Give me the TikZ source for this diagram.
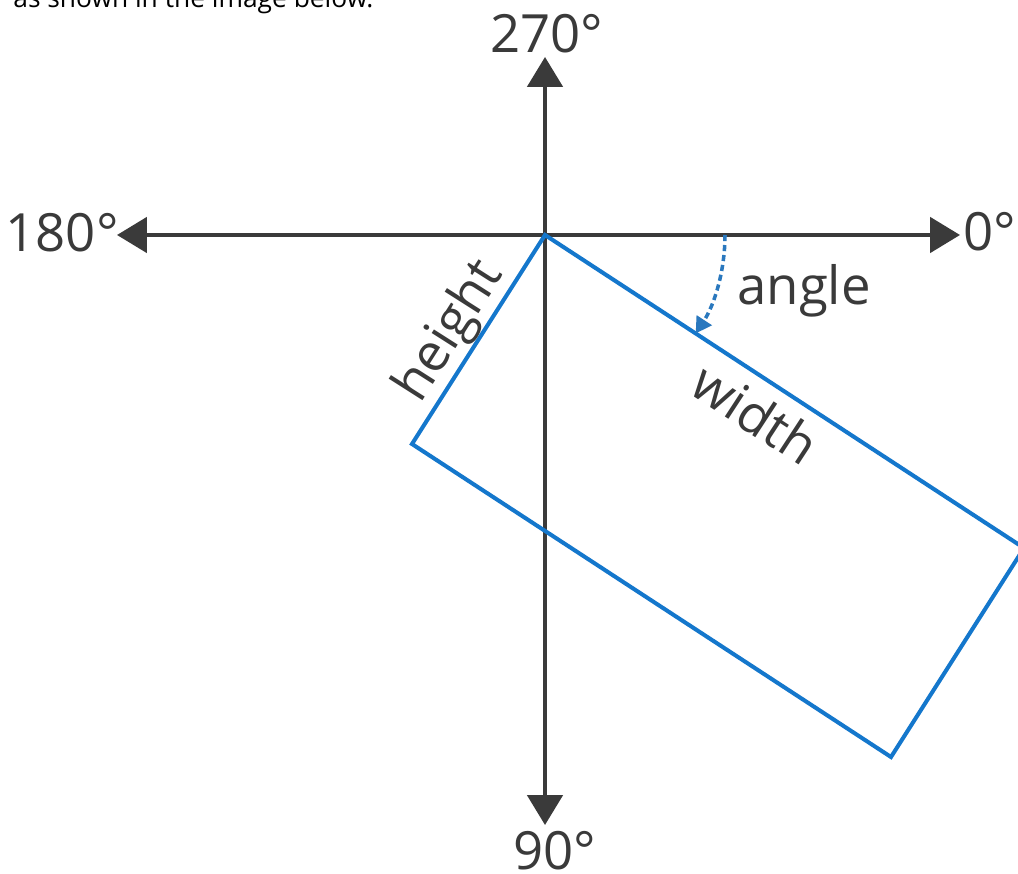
\documentclass[tikz,border=0pt]{standalone}
\usepackage{fontspec}
\setmainfont{Open Sans}
\usetikzlibrary{arrows.meta,calc}
\definecolor{axisgray}{HTML}{3A3A3A}
\definecolor{rectblue}{HTML}{1477CC}
\definecolor{arcblue}{HTML}{2A78BE}
\begin{document}
\begin{tikzpicture}[x=0.02cm,y=-0.02cm,
  axis/.style={draw=axisgray,line width=2.3pt,{Triangle[length=17pt,width=20pt]}-{Triangle[length=17pt,width=20pt]}},
  edge/.style={draw=rectblue,line width=2.3pt,line join=miter},
  lbl/.style={font=\fontsize{30}{36}\selectfont,text=axisgray,inner sep=0pt},
  anglearc/.style={draw=arcblue,line width=2pt,dash pattern=on 3.5pt off 2.2pt,-{Triangle[length=9pt,width=10pt]}}]
\useasboundingbox (0,0) rectangle (1018,874);
\clip (0,0) rectangle (1018,874);
\fill[white] (0,0) rectangle (1018,874);
\node[anchor=base west, inner sep=0pt, font=\fontsize{15}{18}\selectfont] (intro) at (13,8) {as shown in the image below.};
\coordinate (W) at (117,235);
\coordinate (E) at (960,235);
\coordinate (N) at (545,57);
\coordinate (S) at (545,825);
\coordinate (O) at (545,235);
\coordinate (R) at (1024,548);
\coordinate (B) at (891,757);
\coordinate (L) at (412,444);
\coordinate (arcstart) at (725,235);
\draw[axis] (W) -- (E);
\draw[axis] (N) -- (S);
\draw[edge] (O) -- (R) -- (B) -- (L) -- cycle;
\draw[anglearc] (arcstart) arc[start angle=0,end angle=33.16,radius=180];
\node[lbl,anchor=base] (l270) at (547,53) {270°};
\node[lbl,anchor=base] (l90) at (555,869) {90°};
\node[lbl,anchor=base east] (l180) at (119,252) {180°};
\node[lbl,anchor=base west] (l0) at (963,251) {0°};
\node[lbl,anchor=base west] (langle) at (737,305) {angle};
\node[lbl,anchor=base,rotate=57.5] (lheight) at (462,339.5) {height};
\node[lbl,anchor=base,rotate=-33.16] (lwidth) at (745,430) {width};
\end{tikzpicture}
\end{document}
